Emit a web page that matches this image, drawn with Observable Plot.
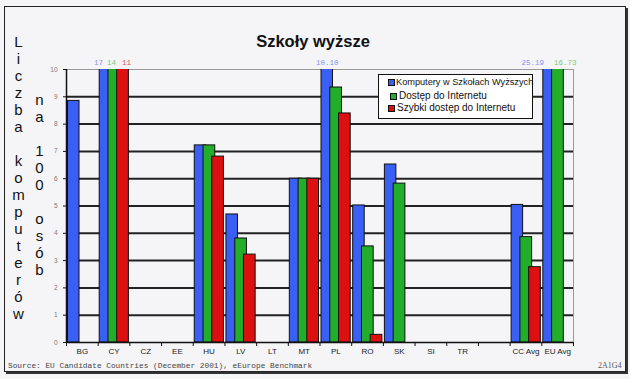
<!DOCTYPE html>
<html>
<head>
<meta charset="utf-8">
<script src="https://cdn.jsdelivr.net/npm/d3@7"></script>
<script src="https://cdn.jsdelivr.net/npm/@observablehq/plot@0.6"></script>
<style>
  body { margin: 0; }
  #wrap { position: relative; width: 630px; height: 379px; background: #f5f5f8; overflow: hidden; font-family: "Liberation Sans", Arial, sans-serif; }
  #frame { position: absolute; left: 4px; top: 6px; width: 620px; height: 364px; border: 1px solid #222; box-shadow: 2px 2px 0 #333; }
  #chart { position: absolute; left: 0; top: 0; }
  #title { position: absolute; left: 213px; width: 200px; top: 32px; text-align: center; font-size: 16.5px; font-weight: bold; line-height: 18px; color: #111; }
  .vlab { position: absolute; writing-mode: vertical-lr; text-orientation: upright; font-size: 15px; color: #111; white-space: pre; }
  #legend { position: absolute; left: 378px; top: 74px; width: 153px; height: 43px; background: #fff; border: 1.5px solid #111; }
  .li { position: absolute; left: 0; height: 14px; line-height: 14px; color: #111; white-space: nowrap; }
  .sw { position: absolute; top: 4px; width: 5px; height: 5px; border: 1px solid #111; }
  .lt { position: absolute; top: 0; }
  #source { position: absolute; left: 8px; top: 362px; font-family: "Liberation Mono", "Courier New", monospace; font-size: 7.8px; color: #444; white-space: pre; }
  #code { position: absolute; left: 598px; top: 361px; font-family: "Liberation Serif", serif; font-size: 8px; color: #555; }
</style>
</head>
<body>
<div id="wrap">
  <div id="frame"></div>
  <div id="chart"></div>
  <div id="title">Szkoły wyższe</div>
  <div class="vlab" id="yl1" style="left:10px; top:33px;">Liczba komputerów</div>
  <div class="vlab" id="yl2" style="left:31px; top:91px;">na 100 osób</div>
  <div id="legend"></div>
  <div id="source">Source: EU Candidate Countries (December 2001), eEurope Benchmark</div>
  <div id="code">2A1G4</div>
</div>
<script>
const categories = ["BG", "CY", "CZ", "EE", "HU", "LV", "LT", "MT", "PL", "RO", "SK", "SI", "TR", "", "CC Avg", "EU Avg"];
const seriesNames = ["Komputery w Szkołach Wyższych", "Dostęp do Internetu", "Szybki dostęp do Internetu"];
const computers = [8.85, 17, null, null, 7.22, 4.69, null, 6.0, 10.10, 5.02, 6.52, null, null, null, 5.04, 25.19];
const internet  = [null, 14, null, null, 7.22, 3.81, null, 6.0, 9.34, 3.52, 5.82, null, null, null, 3.86, 16.73];
const broadband = [null, 11, null, null, 6.81, 3.22, null, 6.0, 8.39, 0.28, null, null, null, null, 2.76, null];
const yTicks = [0, 1, 2, 3, 4, 5, 6, 7, 8, 9, 10];
const colors = ["#3a5ff5", "#22ad2a", "#dc1010"];
const labelColors = ["#7d93f3", "#7cc77c", "#e05050"];

const W = 630, H = 379, mL = 66, mR = 57, mT = 69, mB = 37;
const bw = (W - mL - mR) / categories.length;

function rows(values, s) {
  return categories.map((c, i) => ({cat: c, v: values[i], s})).filter(d => d.v != null);
}
const series = [computers, internet, broadband].map((v, s) => rows(v, s));
const insets = [[1.5, bw - 13], [10.3, bw - 22], [19, bw - 30.7]];
const fmt = v => Number.isInteger(v) ? String(v) : v.toFixed(2);

// label nudges (px) for values that overflow the axis
const nudge = {"0|CY": -15.5, "1|CY": -2.5, "2|CY": 12.5, "0|PL": -8.6, "0|EU Avg": -25, "1|EU Avg": 7.5};

const overflow = series.flat().filter(d => d.v > 10);

const marks = [
  Plot.ruleY(d3.range(1, 10), {stroke: "#222", strokeWidth: 2}),
  Plot.ruleY([10], {stroke: "#999", strokeWidth: 1}),
  Plot.ruleX([categories[categories.length - 1]], {dx: bw / 2, y1: 0, y2: 10, stroke: "#999", strokeWidth: 1}),
  ...series.map((data, s) => Plot.barY(data, {
    x: "cat", y: "v", fill: colors[s], stroke: "#111", strokeWidth: 1,
    insetLeft: insets[s][0], insetRight: insets[s][1], clip: true
  })),
  ...overflow.map(d => Plot.text([d], {
    x: "cat", y: () => 10, text: d => fmt(d.v), dy: -7, dx: nudge[d.s + "|" + d.cat] ?? 0,
    fill: labelColors[d.s], fontSize: 7.5, fontFamily: "Liberation Mono, monospace"
  })),
  Plot.ruleY([0], {stroke: "#111", strokeWidth: 1.5}),
  Plot.ruleX([categories[0]], {dx: -bw / 2, y1: 0, y2: 10, stroke: "#111", strokeWidth: 1.5}),
  Plot.axisX({tickSize: 0, tickPadding: 6, fontSize: 8, fill: "#222"}),
  Plot.axisX({tickSize: 4, tickFormat: () => "", dx: -bw / 2, stroke: "#111"}),
  Plot.axisX({ticks: [categories[categories.length - 1]], tickSize: 4, tickFormat: () => "", dx: bw / 2, stroke: "#111"}),
  Plot.axisY({ticks: yTicks, tickSize: 3, tickFormat: () => "", stroke: "#111"}),
  Plot.axisY({ticks: yTicks, tickSize: 0, tickPadding: 9, fontSize: 6.5, fill: "#777"})
];

const chart = Plot.plot({
  width: W, height: H,
  marginLeft: mL, marginRight: mR, marginTop: mT, marginBottom: mB,
  style: {background: "transparent", fontFamily: "Liberation Sans, Arial, sans-serif"},
  x: {type: "band", domain: categories, padding: 0, round: false, label: null},
  y: {domain: [0, 10], label: null},
  marks
});
document.getElementById("chart").appendChild(chart);

// legend
const legend = document.getElementById("legend");
const legendRows = [
  {top: 0, sw: 9, tx: 17, fs: 9.2},
  {top: 14, sw: 11, tx: 20, fs: 10},
  {top: 26, sw: 9, tx: 18, fs: 10}
];
seriesNames.forEach((name, i) => {
  const r = legendRows[i];
  const row = document.createElement("div");
  row.className = "li";
  row.style.top = r.top + "px";
  row.innerHTML = `<span class="sw" style="left:${r.sw}px;background:${colors[i]}"></span><span class="lt" style="left:${r.tx}px;font-size:${r.fs}px">${name}</span>`;
  legend.appendChild(row);
});
</script>
</body>
</html>
